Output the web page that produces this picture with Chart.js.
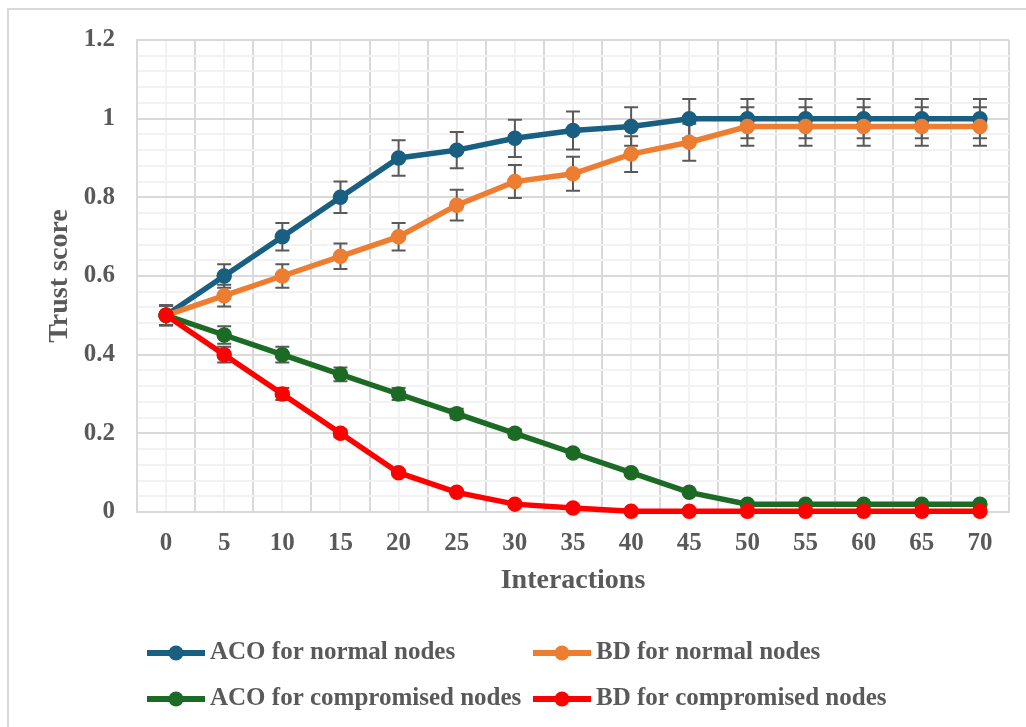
<!DOCTYPE html>
<html lang="en">
<head>
    <meta charset="UTF-8">
    <title>Trust score vs interactions</title>
    <script src="https://cdn.jsdelivr.net/npm/chart.js"></script>
    <style>
        body {
            margin: 0;
            background: #ffffff;
        }

        #wrap {
            position: relative;
            width: 1026px;
            height: 727px;
        }
    </style>
</head>
<body>
    <div id="wrap">
        <canvas id="trustChart" width="1026" height="727"></canvas>
    </div>

    <script>
    // Data
    const interactions = [0, 5, 10, 15, 20, 25, 30, 35, 40, 45, 50, 55, 60, 65, 70];
    const acoNormal = [0.5, 0.6, 0.7, 0.8, 0.9, 0.92, 0.95, 0.97, 0.98, 1, 1, 1, 1, 1, 1];
    const bdNormal = [0.5, 0.55, 0.6, 0.65, 0.7, 0.78, 0.84, 0.86, 0.91, 0.94, 0.98, 0.98, 0.98, 0.98, 0.98];
    const acoCompromised = [0.5, 0.45, 0.4, 0.35, 0.3, 0.25, 0.2, 0.15, 0.1, 0.05, 0.02, 0.02, 0.02, 0.02, 0.02];
    const bdCompromised = [0.5, 0.4, 0.3, 0.2, 0.1, 0.05, 0.02, 0.01, 0.002, 0.002, 0.002, 0.002, 0.002, 0.002, 0.002];
    const seriesNames = ['ACO for normal nodes', 'BD for normal nodes', 'ACO for compromised nodes', 'BD for compromised nodes'];
    const errorPercent = 0.05; // error bars are 5% of the value

    const serif = '"Liberation Serif", "Times New Roman", serif';
    const textGrey = '#595959';

    function points(values) {
        return interactions.map((x, i) => ({ x: x, y: values[i] }));
    }

    function lineSet(name, values, color, order) {
        return {
            label: name,
            data: points(values),
            borderColor: color,
            backgroundColor: color,
            borderWidth: 5.5,
            pointRadius: 7,
            pointHoverRadius: 7,
            pointBorderWidth: 1.5,
            tension: 0,
            clip: false,
            order: order
        };
    }

    // vertical error bars under the lines
    const errorBars = {
        id: 'errorBars',
        beforeDatasetsDraw(chart) {
            const ctx = chart.ctx;
            const y = chart.scales.y;
            ctx.save();
            ctx.strokeStyle = '#595959';
            ctx.lineWidth = 2;
            chart.data.datasets.forEach((ds, di) => {
                const meta = chart.getDatasetMeta(di);
                meta.data.forEach((pt, i) => {
                    const v = ds.data[i].y;
                    if (v < 0.05) return;
                    const top = y.getPixelForValue(v * (1 + errorPercent));
                    const bot = y.getPixelForValue(v * (1 - errorPercent));
                    ctx.beginPath();
                    ctx.moveTo(pt.x, top);
                    ctx.lineTo(pt.x, bot);
                    ctx.moveTo(pt.x - 7, top);
                    ctx.lineTo(pt.x + 7, top);
                    ctx.moveTo(pt.x - 7, bot);
                    ctx.lineTo(pt.x + 7, bot);
                    ctx.stroke();
                });
            });
            ctx.restore();
        }
    };

    // outer frame and two-column legend like the original
    const frameAndLegend = {
        id: 'frameAndLegend',
        beforeDraw(chart) {
            const ctx = chart.ctx;
            ctx.save();
            ctx.strokeStyle = '#d9d9d9';
            ctx.lineWidth = 2;
            ctx.beginPath();
            ctx.moveTo(8, 740);
            ctx.lineTo(8, 9);
            ctx.lineTo(1040, 9);
            ctx.stroke();
            ctx.restore();
        },
        afterDraw(chart) {
            const ctx = chart.ctx;
            const cols = [147, 533];
            const rows = [653, 699];
            ctx.save();
            chart.data.datasets.forEach((ds, i) => {
                const x = cols[i % 2];
                const y = rows[Math.floor(i / 2)];
                ctx.strokeStyle = ds.borderColor;
                ctx.lineWidth = 6;
                ctx.beginPath();
                ctx.moveTo(x, y);
                ctx.lineTo(x + 58, y);
                ctx.stroke();
                ctx.fillStyle = ds.borderColor;
                ctx.beginPath();
                ctx.arc(x + 29, y, 7.5, 0, Math.PI * 2);
                ctx.fill();
                ctx.fillStyle = textGrey;
                ctx.font = 'bold 25px ' + serif;
                ctx.textBaseline = 'middle';
                ctx.textAlign = 'left';
                ctx.fillText(ds.label, x + 63, y);
            });
            ctx.restore();
        }
    };

    function isMultiple(v, step) {
        return Math.abs(v / step - Math.round(v / step)) < 1e-6;
    }

    const data = {
        datasets: [
            lineSet(seriesNames[0], acoNormal, '#185f82', 4),
            lineSet(seriesNames[1], bdNormal, '#ed7d31', 3),
            lineSet(seriesNames[2], acoCompromised, '#1c6b24', 2),
            lineSet(seriesNames[3], bdCompromised, '#ff0000', 1)
        ]
    };

    const config = {
        type: 'line',
        data: data,
        plugins: [errorBars, frameAndLegend],
        options: {
            responsive: false,
            animation: false,
            layout: {
                padding: { left: 0, top: 40, right: 16, bottom: 117 }
            },
            plugins: {
                legend: { display: false },
                tooltip: { enabled: false }
            },
            scales: {
                x: {
                    type: 'linear',
                    min: -2.5,
                    max: 72.5,
                    afterFit(scale) { scale.height = 98; },
                    border: { color: '#d9d9d9', width: 2 },
                    grid: {
                        drawTicks: false,
                        lineWidth: 2,
                        color: c => isMultiple(c.tick.value + 2.5, 5) ? '#d9d9d9' : '#f2f2f2'
                    },
                    ticks: {
                        stepSize: 2.5,
                        autoSkip: false,
                        maxRotation: 0,
                        padding: 17,
                        color: textGrey,
                        font: { family: serif, size: 25, weight: 'bold' },
                        callback: v => isMultiple(v, 5) ? String(Math.round(v)) : ''
                    },
                    title: {
                        display: true,
                        text: 'Interactions',
                        color: textGrey,
                        font: { family: serif, size: 28, weight: 'bold' },
                        padding: { top: 0, bottom: 12 }
                    }
                },
                y: {
                    min: 0,
                    max: 1.2,
                    afterFit(scale) { scale.width = 137; },
                    border: { color: '#d9d9d9', width: 2 },
                    grid: {
                        drawTicks: false,
                        lineWidth: 2,
                        color: c => isMultiple(c.tick.value, 0.2) ? '#d9d9d9' : '#f2f2f2'
                    },
                    ticks: {
                        stepSize: 0.04,
                        autoSkip: false,
                        padding: 22,
                        color: textGrey,
                        font: { family: serif, size: 25, weight: 'bold' },
                        callback: v => isMultiple(v, 0.2) ? String(Math.round(v * 10) / 10) : ''
                    },
                    title: {
                        display: true,
                        text: 'Trust score',
                        color: textGrey,
                        font: { family: serif, size: 28, weight: 'bold' },
                        padding: { top: 43, bottom: 0 }
                    }
                }
            }
        }
    };

    const ctx = document.getElementById('trustChart').getContext('2d');
    new Chart(ctx, config);
    </script>
</body>
</html>
